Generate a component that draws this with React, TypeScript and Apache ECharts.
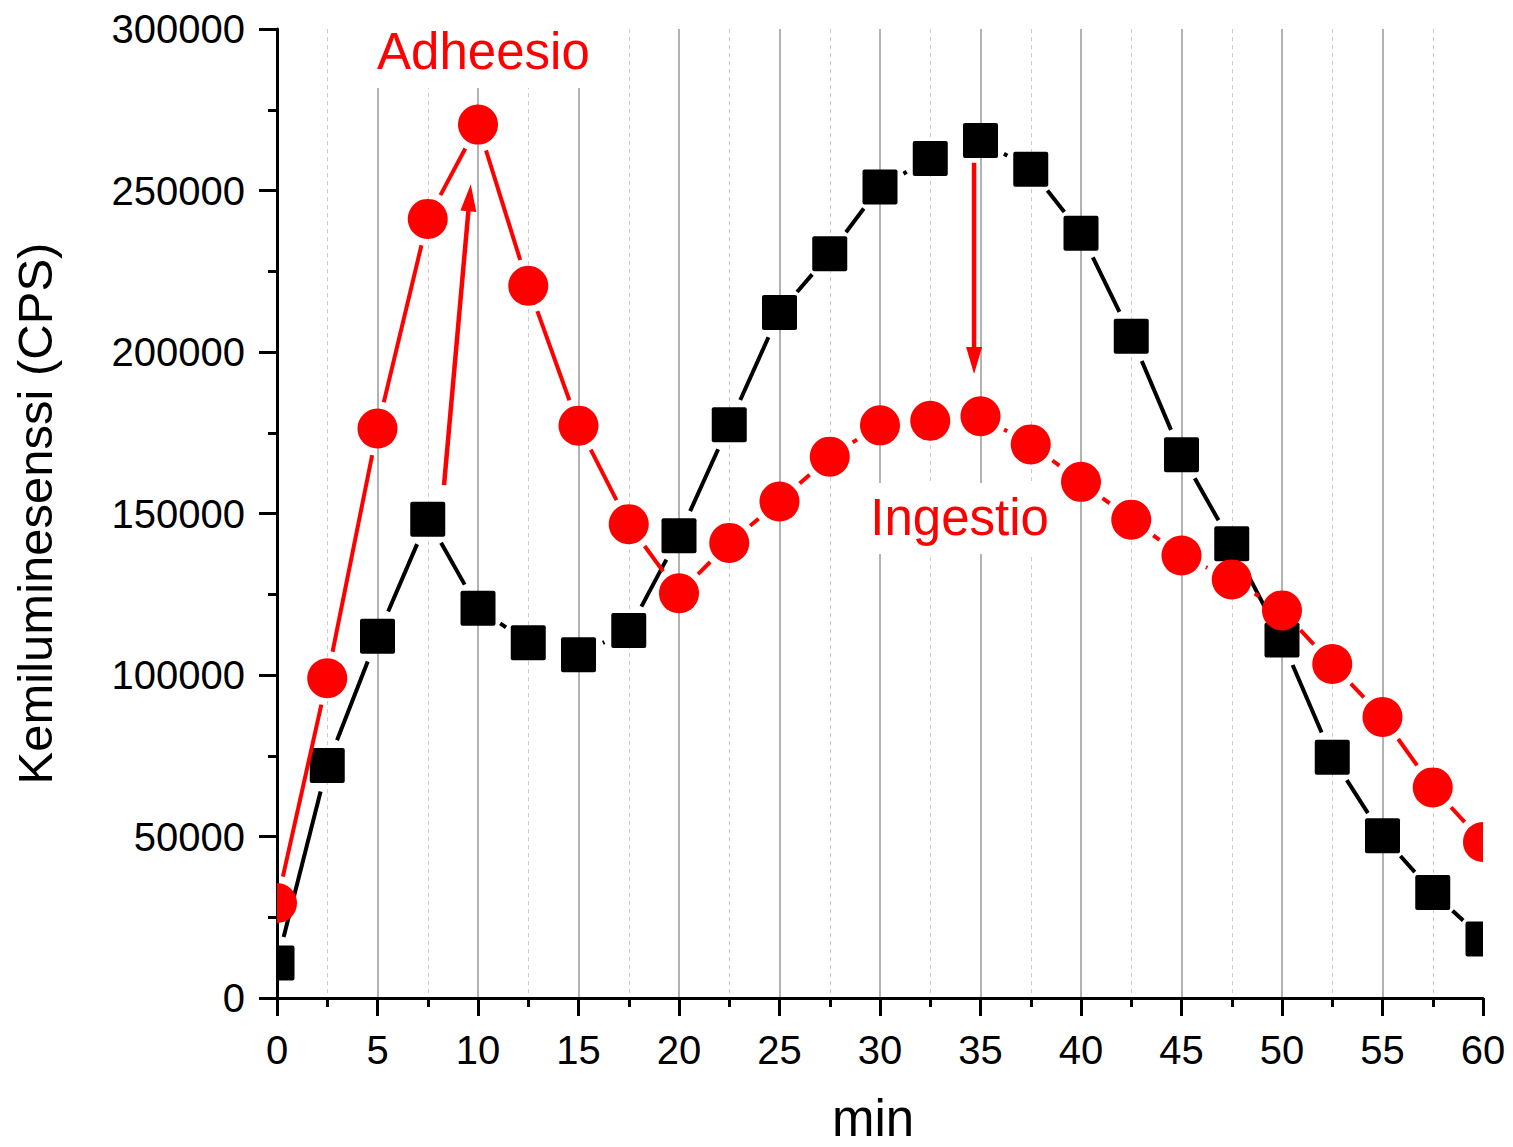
import React, { useEffect, useRef } from "react";
import * as echarts from "echarts";

// Time points (min)
const minutes = [0, 2.5, 5, 7.5, 10, 12.5, 15, 17.5, 20, 22.5, 25, 27.5, 30, 32.5, 35, 37.5, 40, 42.5, 45, 47.5, 50, 52.5, 55, 57.5, 60];
// Black squares
const blackValues = [10800, 72000, 112000, 148200, 120700, 110000, 106300, 113800, 143100, 177500, 212200, 230400, 251100, 259900, 265500, 256600, 236800, 204900, 168200, 140600, 110800, 74500, 50200, 32700, 18300];
// Red circles
const redValues = [29400, 99000, 176300, 241200, 270400, 220500, 177200, 146700, 125300, 140900, 153700, 167600, 177300, 178700, 180100, 171400, 159800, 148100, 137000, 129600, 120000, 103400, 87000, 65200, 48300];

// Annotation texts and their anchor (data coords: min, CPS)
const annotationTexts = ["Adheesio", "Ingestio"];
const annotationX = [10.27, 33.96];
const annotationY = [293000, 148900];

// Arrows: start (x0,y0) -> tip (x1,y1) in data coords
const arrowX0 = [8.31, 34.68];
const arrowY0 = [158800, 258600];
const arrowX1 = [9.64, 34.68];
const arrowY1 = [251900, 193200];

// Axis ticks
const xMin = 0, xMax = 60, xInterval = 5;
const yMin = 0, yMax = 300000, yInterval = 50000;

const FONT = "'Liberation Sans', Arial, Helvetica, sans-serif";
const RED = "#ff0000";
const BLACK = "#000000";
const GAP = 27;

// white background boxes behind annotation text (pixel offsets from text centre)
const boxStyles = [
  { left: -136, right: 132, top: -36, bottom: 36.5 },
  { left: -96, right: 98, top: -34, bottom: 37 },
];

function makeRenderer(kind: "square" | "circle", color: string) {
  return (params: any, api: any) => {
    const i = params.dataIndexInside;
    const p = api.coord([api.value(0), api.value(1)]);
    const children: any[] = [];
    if (i > 0) {
      const q = api.coord([api.value(0, i - 1), api.value(1, i - 1)]);
      const dx = p[0] - q[0];
      const dy = p[1] - q[1];
      const d = Math.hypot(dx, dy);
      if (d > 2 * GAP) {
        const ux = dx / d;
        const uy = dy / d;
        children.push({
          type: "line",
          shape: {
            x1: q[0] + ux * GAP,
            y1: q[1] + uy * GAP,
            x2: p[0] - ux * GAP,
            y2: p[1] - uy * GAP,
          },
          style: { stroke: color, lineWidth: 4, lineCap: "butt" },
        });
      }
    }
    if (kind === "square") {
      const s = 35;
      children.push({
        type: "rect",
        shape: { x: p[0] - s / 2, y: p[1] - s / 2, width: s, height: s, r: 2 },
        style: { fill: color },
      });
    } else {
      children.push({
        type: "circle",
        shape: { cx: p[0], cy: p[1], r: 20 },
        style: { fill: color },
      });
    }
    return { type: "group", children };
  };
}

export default function App() {
  const ref = useRef<HTMLDivElement>(null);

  useEffect(() => {
    if (!ref.current) return;
    const chart = echarts.init(ref.current, undefined, { renderer: "svg" });

    const blackData = minutes.map((m, i) => [m, blackValues[i]]);
    const redData = minutes.map((m, i) => [m, redValues[i]]);
    const annData = annotationX.map((x, i) => [x, annotationY[i]]);
    const arrowData = arrowX0.map((x, i) => [x, arrowY0[i], arrowX1[i], arrowY1[i]]);

    const option: any = {
      animation: false,
      backgroundColor: "#ffffff",
      textStyle: { fontFamily: FONT },
      grid: {
        left: 277,
        top: 29,
        width: 1206,
        height: 969,
        containLabel: false,
        outerBoundsMode: "none",
      },
      xAxis: {
        type: "value",
        min: xMin,
        max: xMax,
        interval: xInterval,
        name: "min",
        nameLocation: "middle",
        nameGap: 95,
        nameTextStyle: { fontSize: 51, color: BLACK, fontFamily: FONT, padding: [0, 14, 0, 0] },
        axisLine: { show: true, onZero: false, lineStyle: { color: BLACK, width: 3 } },
        axisTick: { show: true, length: 18, lineStyle: { color: BLACK, width: 3 } },
        minorTick: { show: true, splitNumber: 2, length: 9, lineStyle: { color: BLACK, width: 3 } },
        splitLine: {
          show: true,
          showMinLine: false,
          showMaxLine: false,
          lineStyle: { color: "#999999", width: 1.5 },
        },
        minorSplitLine: { show: true, lineStyle: { color: "#cccccc", width: 1, type: [4, 4] } },
        axisLabel: {
          fontSize: 40,
          color: BLACK,
          margin: 32,
          fontFamily: FONT,
          showMaxLabel: true,
          showMinLabel: true,
          formatter: (v: number) => String(v),
        },
      },
      yAxis: {
        type: "value",
        min: yMin,
        max: yMax,
        interval: yInterval,
        name: "Kemiluminesenssi (CPS)",
        nameLocation: "middle",
        nameGap: 218,
        nameTextStyle: { fontSize: 49, color: BLACK, fontFamily: FONT },
        axisLine: { show: true, onZero: false, lineStyle: { color: BLACK, width: 3 } },
        axisTick: { show: true, length: 18, lineStyle: { color: BLACK, width: 3 } },
        minorTick: { show: true, splitNumber: 2, length: 9, lineStyle: { color: BLACK, width: 3 } },
        splitLine: { show: false },
        axisLabel: {
          fontSize: 40,
          color: BLACK,
          margin: 32,
          fontFamily: FONT,
          formatter: (v: number) => String(v),
        },
      },
      series: [
        {
          name: "annotations",
          type: "custom",
          z: 1,
          clip: false,
          silent: true,
          data: annData,
          encode: { x: 0, y: 1 },
          renderItem: (params: any, api: any) => {
            const p = api.coord([api.value(0), api.value(1)]);
            const b = boxStyles[params.dataIndex];
            return {
              type: "group",
              children: [
                {
                  type: "rect",
                  shape: { x: p[0] + b.left, y: p[1] + b.top, width: b.right - b.left, height: b.bottom - b.top },
                  style: { fill: "#ffffff" },
                },
                {
                  type: "text",
                  x: p[0],
                  y: p[1],
                  style: {
                    text: annotationTexts[params.dataIndex],
                    fill: RED,
                    fontSize: 51,
                    fontFamily: FONT,
                    align: "center",
                    verticalAlign: "middle",
                  },
                },
              ],
            };
          },
        },
        {
          name: "black",
          type: "custom",
          z: 2,
          clip: true,
          data: blackData,
          encode: { x: 0, y: 1 },
          renderItem: makeRenderer("square", BLACK),
        },
        {
          name: "red",
          type: "custom",
          z: 3,
          clip: true,
          data: redData,
          encode: { x: 0, y: 1 },
          renderItem: makeRenderer("circle", RED),
        },
        {
          name: "arrows",
          type: "custom",
          z: 4,
          clip: false,
          silent: true,
          data: arrowData,
          encode: { x: [0, 2], y: [1, 3] },
          renderItem: (params: any, api: any) => {
            const a = api.coord([api.value(0), api.value(1)]);
            const t = api.coord([api.value(2), api.value(3)]);
            const dx = t[0] - a[0];
            const dy = t[1] - a[1];
            const d = Math.hypot(dx, dy);
            const ux = dx / d;
            const uy = dy / d;
            const headLen = 27;
            const halfW = 8;
            const bx = t[0] - ux * headLen;
            const by = t[1] - uy * headLen;
            const nx = -uy;
            const ny = ux;
            return {
              type: "group",
              children: [
                {
                  type: "line",
                  shape: { x1: a[0], y1: a[1], x2: bx + ux * 2, y2: by + uy * 2 },
                  style: { stroke: RED, lineWidth: 4.5 },
                },
                {
                  type: "polygon",
                  shape: {
                    points: [
                      [t[0], t[1]],
                      [bx + nx * halfW, by + ny * halfW],
                      [bx - nx * halfW, by - ny * halfW],
                    ],
                  },
                  style: { fill: RED },
                },
              ],
            };
          },
        },
      ],
    };

    chart.setOption(option);
    return () => {
      chart.dispose();
    };
  }, []);

  return (
    <div
      ref={ref}
      style={{ position: "fixed", left: 0, top: 0, width: 1513, height: 1147, background: "#fff" }}
    />
  );
}
